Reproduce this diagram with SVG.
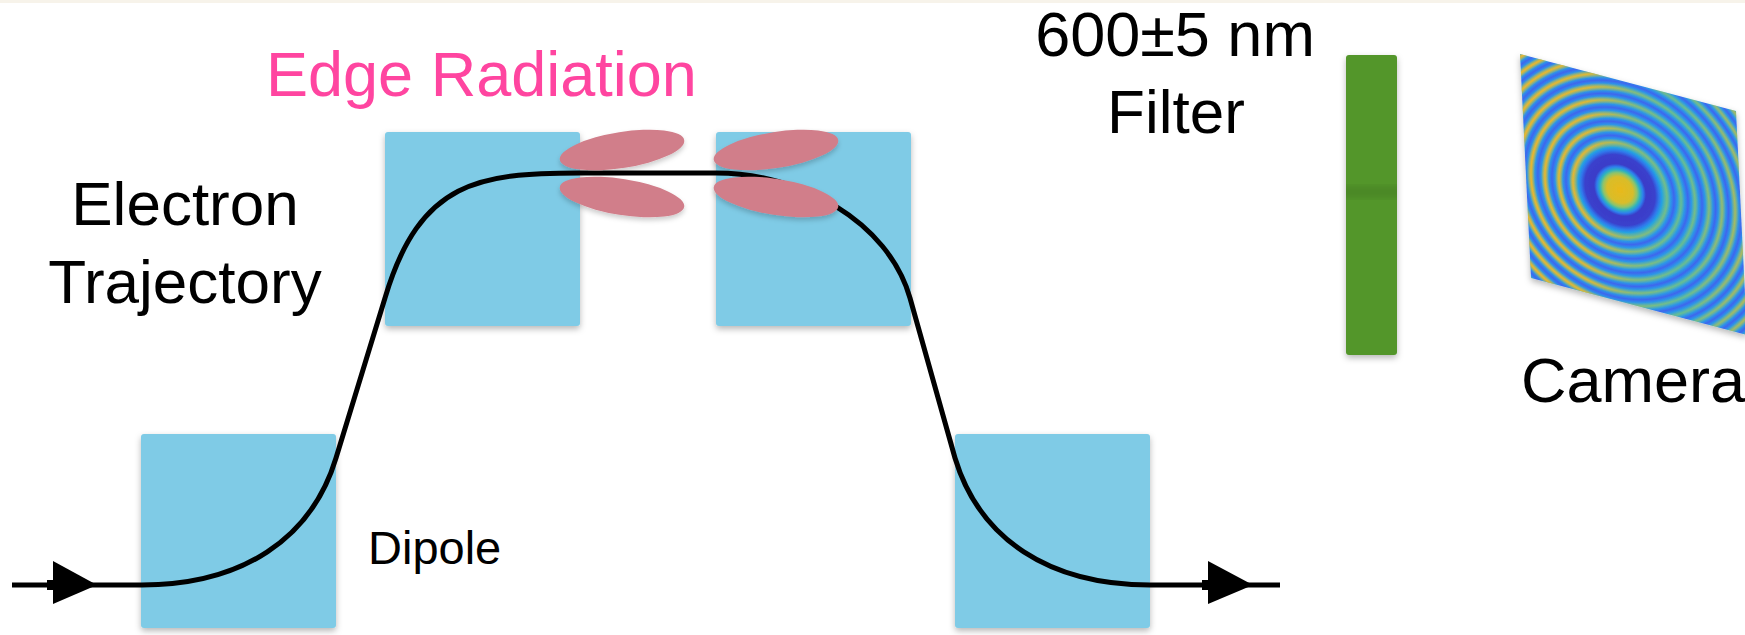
<svg xmlns="http://www.w3.org/2000/svg" width="1745" height="635" viewBox="0 0 1745 635">
  <style>
    .lbl { font-family: "Liberation Sans", Arial, Helvetica, sans-serif; fill: #000; }
    .big { font-size: 62px; }
    .pink { fill: #FF45A0; }
    .magnet { fill: #7FCBE6; }
    .lobe { fill: #D17E8A; }
    .traj { fill: none; stroke: #000; stroke-width: 5; stroke-linecap: butt; }
    .p { stop-color: #4FC0A6; }
    .m { stop-color: #2A9BE8; }
    .t { stop-color: #3E66EE; }
    .w { stop-color: #F0B52A; stop-opacity: 1; }
    .z { stop-color: #F0B52A; stop-opacity: 0; }
  </style>
  <defs>
    <filter id="shadow" x="-20%" y="-20%" width="140%" height="150%">
      <feDropShadow dx="0" dy="3" stdDeviation="3" flood-color="#000" flood-opacity="0.28"/>
    </filter>
    <filter id="shadowSoft" x="-20%" y="-20%" width="140%" height="150%">
      <feDropShadow dx="0" dy="3" stdDeviation="2.5" flood-color="#000" flood-opacity="0.2"/>
    </filter>
    <filter id="blur2"><feGaussianBlur stdDeviation="3"/></filter>
    <marker id="headPink" viewBox="0 0 28 30" refX="0" refY="15" markerWidth="28" markerHeight="30" markerUnits="userSpaceOnUse" orient="auto">
      <path d="M0 0 L28 15 L0 30 Z" fill="#D4808C"/>
    </marker>
    <!-- interference rings on the sensor -->
    <radialGradient id="ringsCool" gradientUnits="userSpaceOnUse" cx="0" cy="0" r="200" gradientTransform="translate(1620 190) matrix(1 0.15 0.04 1 0 0)">
      <stop offset="0%" stop-color="#E8B91C"/>
      <stop offset="6.5%" stop-color="#D8BD2A"/>
      <stop offset="8.5%" stop-color="#8CC46C"/>
      <stop offset="10%" stop-color="#2FB3BE"/>
      <stop offset="11.5%" stop-color="#2D7FEE"/>
      <stop offset="13%" stop-color="#3A3CC8"/>
      <stop offset="17.5%" stop-color="#3A40CC"/>
      <stop offset="19.5%" stop-color="#2F78EC"/>
      <stop offset="21%" stop-color="#25A2E2"/>
      <stop offset="23.5%" class="p"/><stop offset="25.25%" class="m"/><stop offset="27%" class="t"/><stop offset="28.75%" class="m"/>
      <stop offset="30.5%" class="p"/><stop offset="32.25%" class="m"/><stop offset="34%" class="t"/><stop offset="35.75%" class="m"/>
      <stop offset="37.5%" class="p"/><stop offset="39.25%" class="m"/><stop offset="41%" class="t"/><stop offset="42.75%" class="m"/>
      <stop offset="44.5%" class="p"/><stop offset="46.1%" class="m"/><stop offset="47.75%" class="t"/><stop offset="49.4%" class="m"/>
      <stop offset="51%" class="p"/><stop offset="52.6%" class="m"/><stop offset="54.25%" class="t"/><stop offset="55.9%" class="m"/>
      <stop offset="57.5%" class="p"/><stop offset="59.1%" class="m"/><stop offset="60.75%" class="t"/><stop offset="62.4%" class="m"/>
      <stop offset="64%" class="p"/><stop offset="65.5%" class="m"/><stop offset="67%" class="t"/><stop offset="68.5%" class="m"/>
      <stop offset="70%" class="p"/><stop offset="71.5%" class="m"/><stop offset="73%" class="t"/><stop offset="74.5%" class="m"/>
      <stop offset="76%" class="p"/><stop offset="77.5%" class="m"/><stop offset="79%" class="t"/><stop offset="80.5%" class="m"/>
      <stop offset="82%" class="p"/><stop offset="83.5%" class="m"/><stop offset="85%" class="t"/><stop offset="86.5%" class="m"/>
      <stop offset="88%" class="p"/><stop offset="89.5%" class="m"/><stop offset="91%" class="t"/><stop offset="92.5%" class="m"/>
      <stop offset="94%" class="p"/><stop offset="95.5%" class="m"/><stop offset="97%" class="t"/><stop offset="98.5%" class="m"/>
      <stop offset="100%" class="p"/>
    </radialGradient>
    <radialGradient id="ringsWarm" gradientUnits="userSpaceOnUse" cx="0" cy="0" r="200" gradientTransform="translate(1620 190) matrix(1 0.15 0.04 1 0 0)">
      <stop offset="0%" class="z"/>
      <stop offset="21%" class="z"/><stop offset="23.5%" class="w"/><stop offset="25.5%" class="z"/>
      <stop offset="28.5%" class="z"/><stop offset="30.5%" class="w"/><stop offset="32.5%" class="z"/>
      <stop offset="35.5%" class="z"/><stop offset="37.5%" class="w"/><stop offset="39.5%" class="z"/>
      <stop offset="42.5%" class="z"/><stop offset="44.5%" class="w"/><stop offset="46.5%" class="z"/>
      <stop offset="49%" class="z"/><stop offset="51%" class="w"/><stop offset="53%" class="z"/>
      <stop offset="55.5%" class="z"/><stop offset="57.5%" class="w"/><stop offset="59.5%" class="z"/>
      <stop offset="62%" class="z"/><stop offset="64%" class="w"/><stop offset="66%" class="z"/>
      <stop offset="68.2%" class="z"/><stop offset="70%" class="w"/><stop offset="71.8%" class="z"/>
      <stop offset="74.2%" class="z"/><stop offset="76%" class="w"/><stop offset="77.8%" class="z"/>
      <stop offset="80.2%" class="z"/><stop offset="82%" class="w"/><stop offset="83.8%" class="z"/>
      <stop offset="86.2%" class="z"/><stop offset="88%" class="w"/><stop offset="89.8%" class="z"/>
      <stop offset="92.2%" class="z"/><stop offset="94%" class="w"/><stop offset="95.8%" class="z"/>
      <stop offset="98.2%" class="z"/><stop offset="100%" class="w"/>
    </radialGradient>
    <linearGradient id="warmFade" gradientUnits="userSpaceOnUse" x1="1520" y1="0" x2="1745" y2="0">
      <stop offset="0" stop-color="#fff" stop-opacity="1"/>
      <stop offset="0.3" stop-color="#fff" stop-opacity="0.9"/>
      <stop offset="0.5" stop-color="#fff" stop-opacity="0.35"/>
      <stop offset="0.72" stop-color="#fff" stop-opacity="0.15"/>
      <stop offset="1" stop-color="#fff" stop-opacity="0.6"/>
    </linearGradient>
    <mask id="warmMask" maskUnits="userSpaceOnUse" x="1500" y="40" width="260" height="310">
      <rect x="1500" y="40" width="260" height="310" fill="url(#warmFade)"/>
    </mask>
    <clipPath id="barClip"><rect x="1346" y="55" width="51" height="300" rx="3"/></clipPath>
  </defs>

  <!-- page edge -->
  <rect x="0" y="0" width="1745" height="3" fill="#F7F3EA"/>

  <!-- dipole magnets -->
  <g id="dipole-1"><rect class="magnet" x="141" y="434" width="195" height="194" rx="3" filter="url(#shadow)"/></g>
  <g id="dipole-2"><rect class="magnet" x="385" y="132" width="195" height="194" rx="3" filter="url(#shadow)"/></g>
  <g id="dipole-3"><rect class="magnet" x="716" y="132" width="195" height="194" rx="3" filter="url(#shadow)"/></g>
  <g id="dipole-4"><rect class="magnet" x="955" y="434" width="195" height="194" rx="3" filter="url(#shadow)"/></g>

  <!-- connectors: electron path and light beam -->
  <g id="connectors">
    <g id="trajectory">
      <line x1="12" y1="585" x2="142" y2="585" stroke="#000" stroke-width="5"/>
      <rect x="47" y="580" width="7" height="10" fill="#000"/>
      <path d="M53 561 L97 585 L53 604 Z" fill="#000"/>
      <path class="traj" d="M142 585 C242 585 311.5 539 336 458 L385 298 C420 180 480 173 580 173 L716 173 C800 173 888 221 910 298 L955 458 C979.5 539 1049 585 1150 585"/>
      <line x1="1150" y1="585" x2="1280" y2="585" stroke="#000" stroke-width="5"/>
      <rect x="1202" y="580" width="7" height="10" fill="#000"/>
      <path d="M1208 561 L1253 585 L1208 604 Z" fill="#000"/>
    </g>
    <line id="beam" x1="865" y1="186" x2="1462" y2="186" stroke="#D4808C" stroke-width="5" marker-end="url(#headPink)" filter="url(#shadowSoft)"/>
  </g>

  <!-- edge radiation lobes -->
  <g id="edge-radiation" filter="url(#shadowSoft)">
    <ellipse class="lobe" cx="622" cy="150" rx="63" ry="18" transform="rotate(-9 622 150)"/>
    <ellipse class="lobe" cx="622" cy="197" rx="63" ry="18" transform="rotate(9 622 197)"/>
    <ellipse class="lobe" cx="776" cy="150" rx="63" ry="18" transform="rotate(-9 776 150)"/>
    <ellipse class="lobe" cx="776" cy="197" rx="63" ry="18" transform="rotate(9 776 197)"/>
  </g>

  <!-- bandpass filter -->
  <g id="filter">
    <rect x="1346" y="55" width="51" height="300" rx="3" fill="#53962A" filter="url(#shadow)"/>
    <rect x="1340" y="186" width="64" height="12" fill="#000" opacity="0.09" filter="url(#blur2)" clip-path="url(#barClip)"/>
  </g>

  <!-- camera sensor -->
  <g id="camera">
    <polygon points="1520,54 1736,111 1747,335 1531,278" fill="url(#ringsCool)" filter="url(#shadow)"/>
    <polygon points="1520,54 1736,111 1747,335 1531,278" fill="url(#ringsWarm)" mask="url(#warmMask)"/>
  </g>

  <!-- labels -->
  <g id="labels">
    <text class="lbl big pink" x="266" y="96" style="font-size:63px">Edge Radiation</text>
    <text class="lbl big" x="1175" y="56" text-anchor="middle" style="font-size:63px">600±5 nm</text>
    <text class="lbl big" x="1176" y="133" text-anchor="middle">Filter</text>
    <text class="lbl big" x="185" y="225" text-anchor="middle">Electron</text>
    <text class="lbl big" x="185" y="303" text-anchor="middle">Trajectory</text>
    <text class="lbl" x="1521" y="402" style="font-size:63px">Camera</text>
    <text class="lbl" x="368" y="564" style="font-size:47px">Dipole</text>
  </g>
</svg>
